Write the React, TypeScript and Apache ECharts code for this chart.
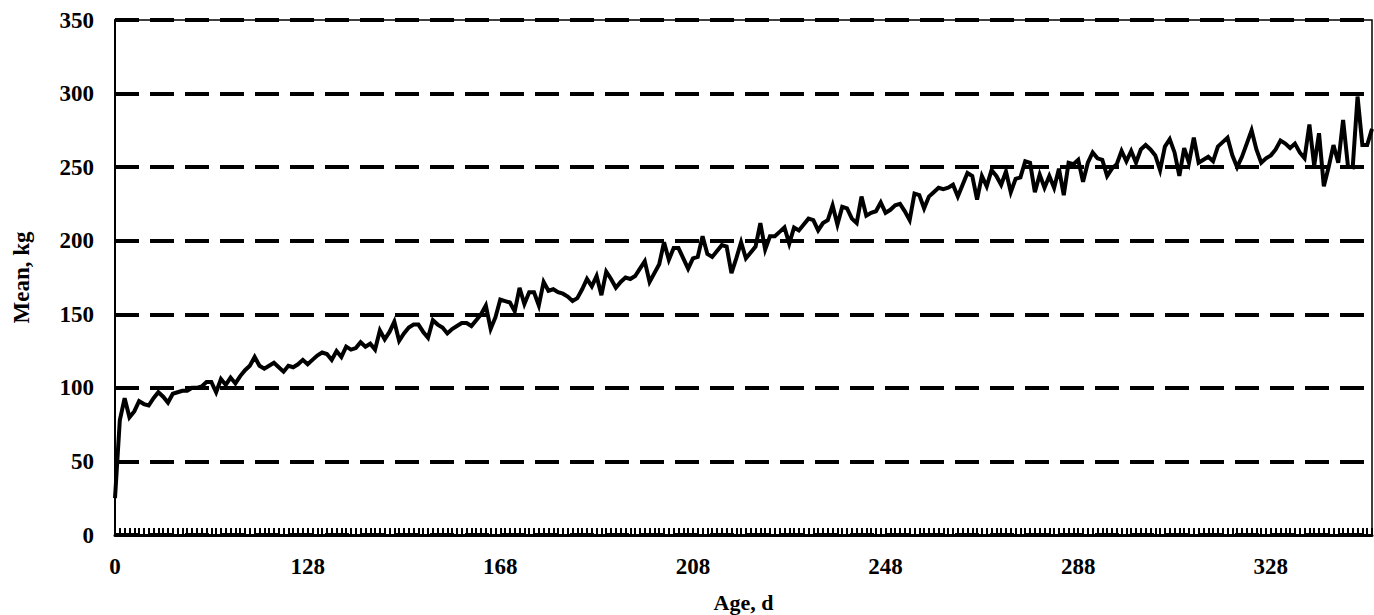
import React, { useEffect, useRef } from "react";
import * as echarts from "echarts";

// Category labels (age, days): first point at 0, then consecutive days from 89
const ages: string[] = ["0", ...Array.from({ length: 261 }, (_, k) => String(89 + k))];

// Mean weight, kg
const meanKg: number[] = [
  25, 78, 93, 80, 84, 91, 89, 88, 93, 97,
  94, 90, 96, 97, 98, 98, 100, 100, 101, 104,
  104, 97, 106, 102, 107, 103, 108, 112, 115, 121,
  115, 113, 115, 117, 114, 111, 115, 114, 116, 119,
  116, 119, 122, 124, 123, 119, 125, 121, 128, 126,
  127, 131, 128, 130, 126, 139, 133, 138, 145, 132,
  137, 141, 143, 143, 138, 134, 146, 143, 141, 137,
  140, 142, 144, 144, 142, 146, 150, 156, 140, 148,
  160, 159, 158, 152, 168, 157, 165, 165, 156, 172,
  166, 167, 165, 164, 162, 159, 161, 167, 174, 169,
  176, 163, 179, 174, 168, 172, 175, 174, 176, 181,
  186, 172, 178, 184, 199, 187, 195, 195, 188, 181,
  188, 189, 203, 191, 189, 193, 197, 196, 178, 188,
  199, 188, 192, 196, 212, 194, 203, 203, 206, 209,
  198, 209, 207, 211, 215, 214, 207, 212, 214, 224,
  211, 223, 222, 215, 212, 230, 217, 219, 220, 226,
  219, 221, 224, 225, 220, 214, 232, 231, 222, 230,
  233, 236, 235, 236, 238, 230, 238, 246, 244, 228,
  244, 237, 248, 244, 238, 247, 233, 242, 243, 254,
  253, 233, 245, 236, 244, 236, 249, 231, 253, 252,
  255, 240, 253, 260, 256, 255, 244, 249, 252, 261,
  254, 261, 253, 262, 265, 262, 258, 248, 264, 269,
  260, 244, 263, 253, 270, 253, 255, 257, 254, 264,
  267, 270, 258, 250, 257, 266, 275, 262, 253, 256,
  258, 262, 268, 266, 263, 266, 260, 256, 279, 251,
  273, 237, 250, 265, 253, 282, 251, 250, 298, 265, 265, 276,
];

const xTitle = "Age, d";
const yTitle = "Mean, kg";

const FONT = "'Liberation Serif', 'Times New Roman', serif";

export default function App() {
  const ref = useRef<HTMLDivElement>(null);

  useEffect(() => {
    if (!ref.current) return;
    const chart = echarts.init(ref.current, null, { renderer: "svg" });
    chart.setOption({
      animation: false,
      backgroundColor: "#ffffff",
      grid: {
        left: 115,
        right: 2,
        top: 20,
        bottom: 80,
        containLabel: false,
        outerBoundsMode: "none",
        show: true,
        borderColor: "#000",
        borderWidth: 1.5,
        backgroundColor: "transparent",
      },
      xAxis: {
        type: "category",
        data: ages,
        boundaryGap: false,
        name: xTitle,
        nameLocation: "middle",
        nameGap: 56,
        nameTextStyle: {
          fontFamily: FONT,
          fontWeight: "bold",
          fontSize: 22,
          color: "#000",
          lineHeight: 22,
        },
        axisLine: { show: true, lineStyle: { color: "#000", width: 3 } },
        axisTick: {
          show: true,
          inside: true,
          length: 7,
          interval: 0,
          alignWithLabel: true,
          lineStyle: { color: "#000", width: 2 },
        },
        axisLabel: {
          interval: 39,
          margin: 20,
          fontFamily: FONT,
          fontWeight: "bold",
          fontSize: 23,
          color: "#000",
        },
        splitLine: { show: false },
      },
      yAxis: {
        type: "value",
        min: 0,
        max: 350,
        interval: 50,
        name: yTitle,
        nameLocation: "middle",
        nameGap: 82,
        nameTextStyle: {
          fontFamily: FONT,
          fontWeight: "bold",
          fontSize: 23,
          color: "#000",
        },
        axisLine: { show: true, lineStyle: { color: "#000", width: 2 } },
        axisTick: { show: false },
        axisLabel: {
          margin: 21,
          fontFamily: FONT,
          fontWeight: "bold",
          fontSize: 23,
          color: "#000",
        },
        splitLine: {
          show: true,
          lineStyle: { color: "#000", width: 4, type: [24, 11] },
        },
      },
      series: [
        {
          type: "line",
          data: meanKg,
          showSymbol: false,
          symbol: "none",
          lineStyle: { color: "#000", width: 4, join: "miter" },
          z: 5,
        },
      ],
    });
    return () => chart.dispose();
  }, []);

  return (
    <div
      ref={ref}
      style={{ position: "fixed", left: 0, top: 0, width: 1374, height: 615, background: "#fff" }}
    />
  );
}
